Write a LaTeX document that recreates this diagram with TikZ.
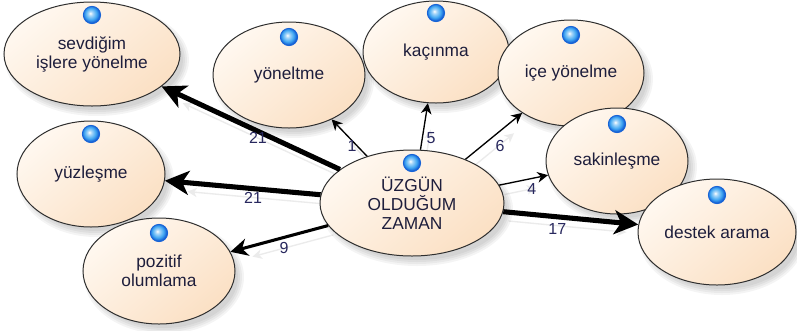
\documentclass[tikz,border=0pt]{standalone}
\usepackage{fontspec}
\setmainfont{Liberation Sans}
\usetikzlibrary{shapes.geometric,arrows.meta,calc}

\definecolor{peachL}{HTML}{FFF8F0}
\definecolor{peachD}{HTML}{FBE0C4}
\definecolor{txtcol}{HTML}{1E1E3C}
\definecolor{lblcol}{HTML}{28285E}
\definecolor{dotmid}{HTML}{3FA6F2}
\definecolor{dotedge}{HTML}{1763D6}
\definecolor{rim}{HTML}{2E2E2E}

\pgfdeclarelayer{bg}
\pgfdeclarelayer{back}
\pgfsetlayers{bg,back,main}

\pgfdeclareradialshading{dotball}{\pgfpoint{-5bp}{5bp}}{%
  color(0bp)=(white); color(6bp)=(white!55!dotmid); color(17bp)=(dotmid);
  color(24bp)=(dotedge); color(50bp)=(dotedge)}

\tikzset{
  topic/.style={ellipse, draw=rim, line width=0.75pt,
    top color=peachL, bottom color=peachD, shading angle=40,
    inner sep=0pt, align=center, text=txtcol,
    font=\fontsize{13}{14.2}\selectfont},
  softshade/.style={fill=black, opacity=0.045},
  marker/.style={circle, shade, shading=dotball, draw=dotedge,
    line width=0.6pt, minimum size=13pt, inner sep=0pt},
  elabel/.style={font=\fontsize{12}{13}\selectfont, text=lblcol, inner sep=0pt},
  slim/.style={draw=black, line width=1pt,
    -{Stealth[length=8pt, width=8pt, inset=2.5pt]}},
  medium/.style={draw=black, line width=2.3pt,
    -{Stealth[length=13pt, width=13pt, inset=4pt]}},
  fat/.style={draw=black, line width=3.8pt,
    -{Stealth[length=18pt, width=18pt, inset=5pt]}},
  ghost/.style={draw=black!8, line width=1pt, shorten >=13pt,
    -{Stealth[length=7pt, width=7pt, inset=2pt]},
    transform canvas={xshift=4pt, yshift=-7pt}},
}

% \topicnode{name}{x}{y}{rx}{ry}{dot offset}{text}  (all lengths in px units)
\newcommand\topicnode[7]{%
  \foreach \g in {0,2,4,6}
    \fill[softshade] (#2+5,#3+6) ellipse [x radius=#4-2+\g, y radius=#5-2+\g];
  \node[topic, minimum width=1.5*#4 pt, minimum height=1.5*#5 pt] (#1) at (#2,#3) {#7};
  \node[marker] (#1-dot) at ($(#1.center)+(0,-#6)$) {};
}

\begin{document}
\begin{tikzpicture}[x=0.75pt, y=-0.75pt]
\useasboundingbox (0,0) rectangle (797,330);
\begin{pgfonlayer}{bg}
  \fill[white] (0,0) rectangle (797,330);
\end{pgfonlayer}

% outer topics, later ones overlap earlier ones
\topicnode{sev}{92}{54}{88}{52}{39}{sevdiğim\\işlere yönelme}
\topicnode{yon}{289}{75}{76}{53}{38}{yöneltme}
\topicnode{kac}{436}{52}{73}{51}{39}{kaçınma}
\topicnode{ice}{571}{73}{73}{53}{38}{içe yönelme}
\topicnode{sak}{617}{161}{71}{53}{37}{sakinleşme}
\topicnode{des}{717}{232}{79}{53}{37}{destek arama}
\topicnode{yuz}{91}{174}{74}{53}{40}{yüzleşme}
\topicnode{poz}{159}{271}{76}{53}{38}{pozitif\\olumlama}

% central situation
\topicnode{c}{412}{203}{92}{53}{40}{ÜZGÜN\\OLDUĞUM\\ZAMAN}

% faint reflections of the connectors
\begin{pgfonlayer}{back}
  \foreach \t in {sev,yon,kac,ice,sak,des,yuz,poz}
    \draw[ghost] (c) -- (\t);
\end{pgfonlayer}

% weighted connectors
\draw[fat] (c) -- (sev) node[elabel, pos=0.445, xshift=-2pt, yshift=-4pt] (w-sev) {21};
\draw[slim] (c) -- (yon) node[elabel, pos=0.27, xshift=-4pt] (w-yon) {1};
\draw[slim] (c) -- (kac) node[elabel, pos=0.26, xshift=6.5pt] (w-kac) {5};
\draw[slim] (c) -- (ice) node[elabel, pos=0.48, xshift=5.5pt, yshift=-6.5pt] (w-ice) {6};
\draw[slim] (c) -- (sak) node[elabel, pos=0.67, yshift=-8pt] (w-sak) {4};
\draw[fat] (c) -- (des) node[elabel, pos=0.4, yshift=-9pt] (w-des) {17};
\draw[fat] (c) -- (yuz) node[elabel, pos=0.434, yshift=-7pt] (w-yuz) {21};
\draw[medium] (c) -- (poz) node[elabel, pos=0.45, yshift=-8pt] (w-poz) {9};
\end{tikzpicture}
\end{document}
